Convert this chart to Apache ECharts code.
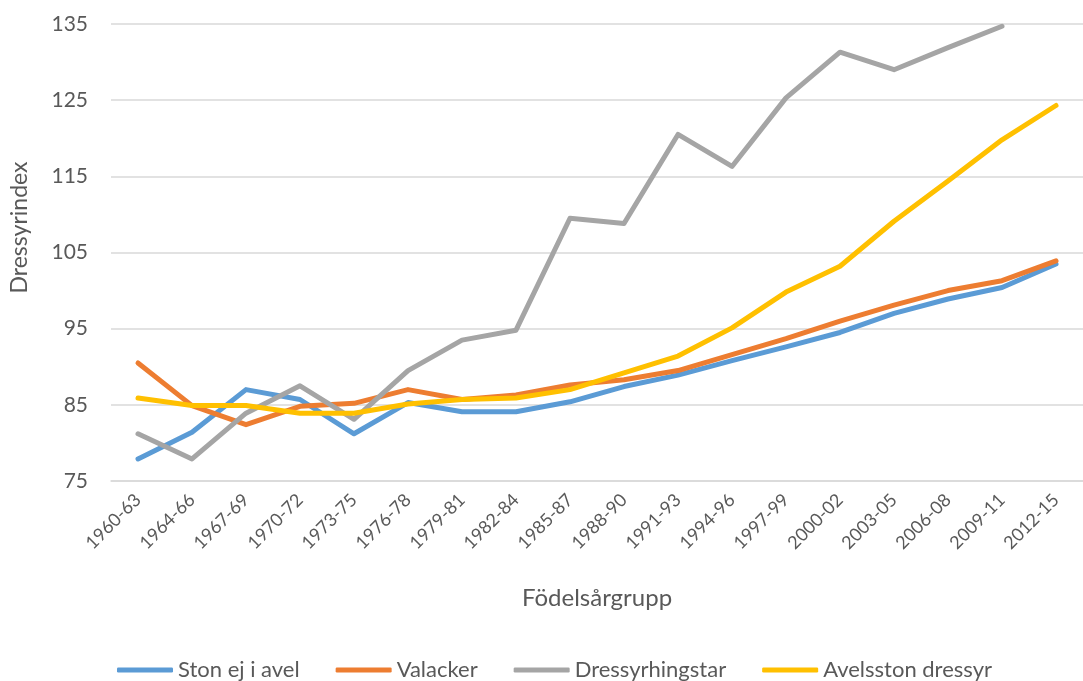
<!DOCTYPE html>
<html>
<head>
<meta charset="utf-8">
<script src="https://cdn.jsdelivr.net/npm/echarts@6/dist/echarts.min.js"></script>
<style>
  html, body { margin: 0; padding: 0; background: #fff; }
  #chart-container { width: 1083px; height: 681px; }
</style>
</head>
<body>
<div id="chart-container"></div>
<script>
var groups = ['1960-63', '1964-66', '1967-69', '1970-72', '1973-75', '1976-78', '1979-81', '1982-84', '1985-87',
  '1988-90', '1991-93', '1994-96', '1997-99', '2000-02', '2003-05', '2006-08', '2009-11', '2012-15'];

var stonEjIAvel = [77.9, 81.4, 87.0, 85.7, 81.2, 85.3, 84.1, 84.1, 85.4, 87.4, 88.9, 90.8, 92.6, 94.5, 97.0, 98.9, 100.4, 103.5];
var valacker = [90.5, 84.9, 82.4, 84.8, 85.2, 87.0, 85.7, 86.3, 87.6, 88.3, 89.5, 91.6, 93.7, 96.0, 98.1, 100.0, 101.3, 103.9];
var dressyrhingstar = [81.2, 77.9, 83.9, 87.5, 83.1, 89.5, 93.5, 94.8, 109.5, 108.8, 120.5, 116.3, 125.3, 131.3, 129.0, 131.9, 134.7, null];
var avelsstonDressyr = [85.9, 84.9, 84.9, 83.9, 83.9, 85.1, 85.7, 85.9, 87.0, 89.2, 91.4, 95.1, 99.8, 103.2, 109.1, 114.4, 119.8, 124.3];

var seriesNames = ['Ston ej i avel', 'Valacker', 'Dressyrhingstar', 'Avelsston dressyr'];
var seriesColors = ['#5B9BD5', '#ED7D31', '#A5A5A5', '#FFC000'];
var seriesData = [stonEjIAvel, valacker, dressyrhingstar, avelsstonDressyr];

var textColor = '#595959';
var fontFamily = 'Lato, "Open Sans", sans-serif';

var myChart = echarts.init(document.getElementById('chart-container'), null, { renderer: 'canvas' });

var option = {
  animation: false,
  textStyle: { fontFamily: fontFamily, color: textColor },
  grid: { left: 102, right: -11, top: 24, bottom: 200, containLabel: false },
  legend: {
    data: seriesNames,
    top: 654,
    left: 112,
    icon: 'roundRect',
    itemWidth: 56,
    itemHeight: 5,
    itemGap: 36,
    textStyle: { fontSize: 22, color: textColor, fontFamily: fontFamily }
  },
  xAxis: {
    type: 'category',
    data: groups,
    boundaryGap: true,
    name: 'Födelsårgrupp',
    nameLocation: 'middle',
    nameGap: 105,
    nameTextStyle: { fontSize: 24, color: textColor, fontFamily: fontFamily },
    axisLine: { show: true, lineStyle: { color: '#D9D9D9', width: 1.5 } },
    axisTick: { show: false },
    axisLabel: { rotate: 45, fontSize: 18, color: textColor, margin: 16, interval: 0 }
  },
  yAxis: {
    type: 'value',
    min: 75,
    max: 135,
    interval: 10,
    name: 'Dressyrindex',
    nameLocation: 'middle',
    nameGap: 80,
    nameRotate: 90,
    nameTextStyle: { fontSize: 23, color: textColor, fontFamily: fontFamily, padding: [0, 0, 0, 50] },
    axisLine: { show: false },
    axisTick: { show: false },
    axisLabel: { fontSize: 21, color: textColor, margin: 23 },
    splitLine: { show: true, lineStyle: { color: '#D9D9D9', width: 1.5 } }
  },
  series: seriesNames.map(function (name, i) {
    return {
      name: name,
      type: 'line',
      data: seriesData[i],
      showSymbol: false,
      symbol: 'none',
      connectNulls: false,
      color: seriesColors[i],
      lineStyle: { color: seriesColors[i], width: 5, cap: 'round', join: 'round' }
    };
  })
};

myChart.setOption(option);
window.addEventListener('resize', myChart.resize);
</script>
</body>
</html>
